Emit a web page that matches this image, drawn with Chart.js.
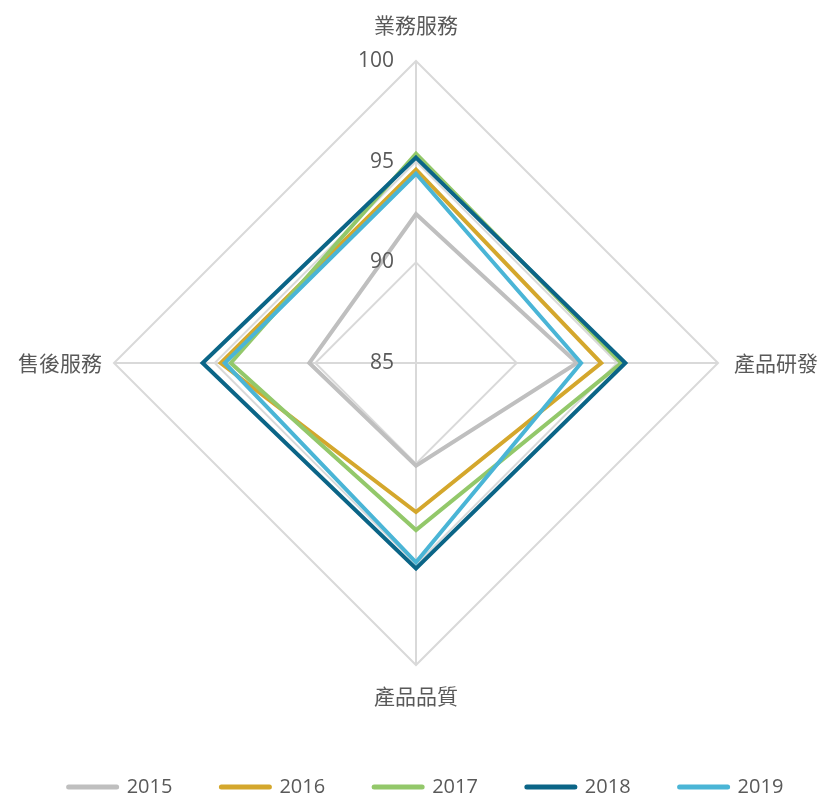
<!DOCTYPE html>
<html>
<head>
<meta charset="utf-8">
<script src="https://cdn.jsdelivr.net/npm/chart.js@4.4.1/dist/chart.umd.min.js"></script>
<style>
  html, body { margin: 0; padding: 0; background: #fff; overflow: hidden; }
  #wrap { width: 820px; height: 807px; }
</style>
</head>
<body>
<div id="wrap"><canvas id="radarChart"></canvas></div>
<script>
const categories = ["業務服務", "產品研發", "產品品質", "售後服務"];
const years = ["2015", "2016", "2017", "2018", "2019"];
const scores2015 = [92.4, 93.0, 90.1, 90.3];
const scores2016 = [94.6, 94.2, 92.4, 94.7];
const scores2017 = [95.4, 95.2, 93.3, 94.2];
const scores2018 = [95.2, 95.4, 95.2, 95.6];
const scores2019 = [94.4, 93.2, 94.9, 94.5];
const tickValues = [85, 90, 95, 100];

const seriesColors = ["#bfbfbf", "#d4a72c", "#93c86a", "#0b6587", "#4ab5d6"];
const allScores = [scores2015, scores2016, scores2017, scores2018, scores2019];
const labelFont = "'Noto Sans CJK TC', 'Noto Sans', sans-serif";
const numberFont = "'Open Sans', 'Noto Sans', sans-serif";

// tick labels sit left of the vertical axis, including 85 at the centre
const tickLabelPlugin = {
    id: "tickLabels",
    afterDatasetsDraw(chart) {
        const scale = chart.scales.r;
        const ctx = chart.ctx;
        ctx.save();
        ctx.font = "21px " + numberFont;
        ctx.fillStyle = "#595959";
        ctx.textAlign = "right";
        ctx.textBaseline = "middle";
        tickValues.forEach(v => {
            const d = scale.getDistanceFromCenterForValue(v);
            ctx.fillText(String(v), scale.xCenter - 22, scale.yCenter - d);
        });
        ctx.restore();
    }
};

const labelPadding = [23, 16, 18, 12];

new Chart(document.getElementById("radarChart"), {
    type: "radar",
    data: {
        labels: categories,
        datasets: years.map((year, i) => ({
            label: year,
            data: allScores[i],
            borderColor: seriesColors[i],
            backgroundColor: seriesColors[i],
            borderWidth: 4,
            borderJoinStyle: "miter",
            pointRadius: 0,
            pointHoverRadius: 0,
            fill: false,
            order: years.length - i,
        }))
    },
    options: {
        responsive: true,
        maintainAspectRatio: false,
        animation: false,
        layout: { padding: { left: 16, right: -16, top: 6 } },
        scales: {
            r: {
                min: 85,
                max: 100,
                ticks: { display: false, stepSize: 5 },
                grid: { color: "#d9d9d9", lineWidth: 2 },
                angleLines: { color: "#d9d9d9", lineWidth: 2 },
                pointLabels: {
                    color: "#595959",
                    font: { family: labelFont, size: 21 },
                    padding: ctx => labelPadding[ctx.index],
                },
            },
        },
        plugins: {
            tooltip: { enabled: false },
            legend: {
                position: "bottom",
                title: { display: true, text: " ", padding: 0, font: { size: 10 } },
                labels: {
                    usePointStyle: true,
                    pointStyle: "line",
                    pointStyleWidth: 48,
                    padding: 49,
                    color: "#595959",
                    font: { family: numberFont, size: 20 },
                    sort: (a, b) => a.datasetIndex - b.datasetIndex,
                    generateLabels: chart => Chart.defaults.plugins.legend.labels.generateLabels(chart)
                        .map(item => ({ ...item, lineCap: "round", lineWidth: 5 })),
                },
            },
        },
    },
    plugins: [tickLabelPlugin],
});
</script>
</body>
</html>
